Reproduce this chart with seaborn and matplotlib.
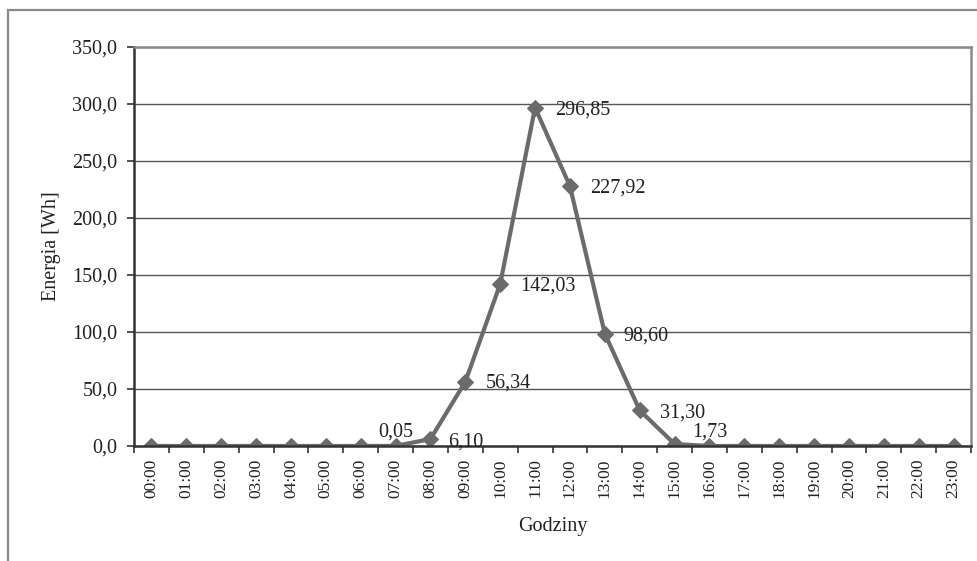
import matplotlib
matplotlib.use("Agg")
import matplotlib.pyplot as plt
import seaborn as sns
import pandas as pd
from matplotlib.patches import Rectangle
from matplotlib.ticker import FixedLocator, FuncFormatter

hours = ["00:00", "01:00", "02:00", "03:00", "04:00", "05:00", "06:00", "07:00",
         "08:00", "09:00", "10:00", "11:00", "12:00", "13:00", "14:00", "15:00",
         "16:00", "17:00", "18:00", "19:00", "20:00", "21:00", "22:00", "23:00"]
energy = [0, 0, 0, 0, 0, 0, 0, 0.05, 6.10, 56.34, 142.03, 296.85, 227.92,
          98.60, 31.30, 1.73, 0, 0, 0, 0, 0, 0, 0, 0]
labeled_hours = ["07:00", "08:00", "09:00", "10:00", "11:00", "12:00", "13:00", "14:00", "15:00"]
y_ticks = [0, 50, 100, 150, 200, 250, 300, 350]

# label offsets in pixels (dx, dy, ha)
label_offsets = {
    "07:00": (0, 14, "center"),
    "08:00": (18, -3, "left"),
    "09:00": (20, -1, "left"),
    "10:00": (20, -2, "left"),
    "11:00": (20, -2, "left"),
    "12:00": (20, -2, "left"),
    "13:00": (19, -2, "left"),
    "14:00": (20, -3, "left"),
    "15:00": (18, 12, "left"),
}

sns.set_theme(style="white")
plt.rcParams["font.family"] = ["Liberation Serif", "DejaVu Serif"]

df = pd.DataFrame({"Godziny": hours, "Energia": energy})

fig = plt.figure(figsize=(9.78, 5.61), dpi=100)
ax = fig.add_axes([134 / 978, 1 - 446 / 561, (971 - 134) / 978, (446 - 47) / 561])

line_color = "#6b6b6b"
sns.lineplot(data=df, x="Godziny", y="Energia", ax=ax, color=line_color,
             linewidth=3.0, marker="D", markersize=8.5, markeredgecolor=line_color,
             markerfacecolor=line_color, sort=False)

ax.set_xlim(-0.5, len(hours) - 0.5)
ax.set_ylim(y_ticks[0], y_ticks[-1])
ax.set_yticks(y_ticks)
ax.yaxis.set_major_formatter(FuncFormatter(lambda v, p: f"{v:.1f}".replace(".", ",")))
ax.grid(axis="y", color="#555555", linewidth=1.0)
ax.set_axisbelow(True)

ax.set_xticks(range(len(hours)))
ax.set_xticklabels(hours, rotation=90, fontsize=12.5)
ax.xaxis.set_minor_locator(FixedLocator([i - 0.5 for i in range(len(hours) + 1)]))
ax.tick_params(axis="x", which="major", length=0, pad=9)
ax.tick_params(axis="x", which="minor", length=5, width=1.2, color="#333333", bottom=True)
ax.tick_params(axis="y", which="major", length=5, width=1.2, color="#333333", left=True,
               labelsize=14.5, pad=7)
for lab in ax.get_yticklabels():
    lab.set_color("#222222")
for lab in ax.get_xticklabels():
    lab.set_color("#222222")

for side in ["left", "bottom"]:
    ax.spines[side].set_color("#333333")
    ax.spines[side].set_linewidth(1.8)
for side in ["top", "right"]:
    ax.spines[side].set_color("#8a8a8a")
    ax.spines[side].set_linewidth(1.8)

ax.set_xlabel("Godziny", fontsize=14.5, color="#222222", labelpad=14)
ax.set_ylabel("Energia [Wh]", fontsize=14.5, color="#222222", labelpad=8)

for h in labeled_hours:
    i = hours.index(h)
    v = energy[i]
    dx, dy, ha = label_offsets[h]
    ax.annotate(f"{v:.2f}".replace(".", ","), xy=(i, v), xytext=(dx, dy),
                textcoords="offset pixels", ha=ha, va="center", fontsize=14.5,
                color="#222222")

fig.patches.append(Rectangle((8 / 978, -0.02), 1.05, 1 - 9.5 / 561 + 0.02,
                             transform=fig.transFigure, fill=False,
                             edgecolor="#8a8a8a", linewidth=1.6))

fig.savefig("out.png", dpi=100)
